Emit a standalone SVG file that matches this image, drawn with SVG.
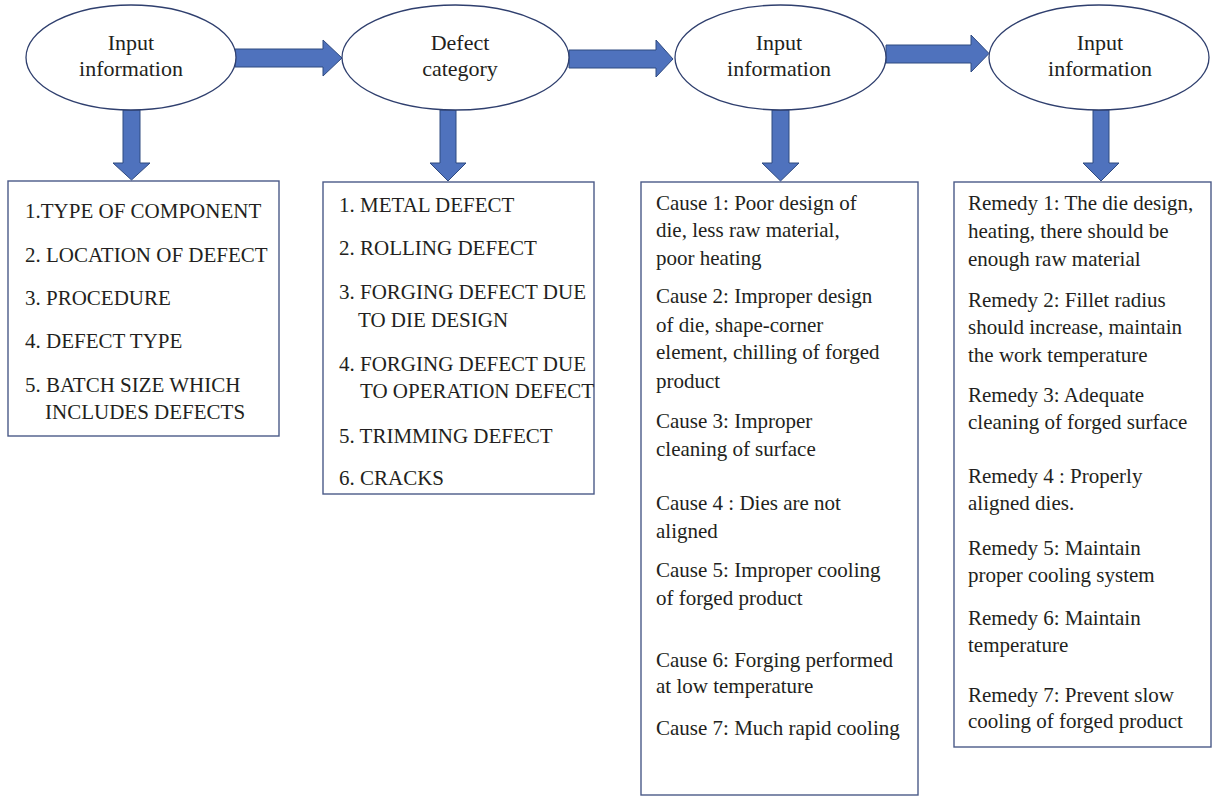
<svg xmlns="http://www.w3.org/2000/svg" width="1212" height="797" viewBox="0 0 1212 797">
<style>
.bg{fill:#ffffff}
.ell{fill:#ffffff;stroke:#2f3f6e;stroke-width:1.3}
.box{fill:#ffffff;stroke:#4a5a88;stroke-width:1.4}
.arr{fill:#4f72bd;stroke:#2f4a80;stroke-width:1}
text{font-family:"Liberation Serif","Times New Roman",serif;fill:#231f20;font-size:21px}
.lbl{font-size:22px;text-anchor:middle}
</style>
<rect class="bg" x="0" y="0" width="1212" height="797"/>
<g id="connectors">
<path class="arr" d="M235,49 H323 V40 L342,58 L323,76 V67 H235 Z"/>
<path class="arr" d="M569,50 H656 V40 L673,59 L656,77 V68 H569 Z"/>
<path class="arr" d="M886,45 H971 V35 L989,53.5 L971,72 V63 H886 Z"/>
<path class="arr" d="M123,110 V163 H113 L131.5,180 L150,163 H140 V110 Z"/>
<path class="arr" d="M440,110 V163 H430 L448,181 L466,163 H456 V110 Z"/>
<path class="arr" d="M772,110 V163 H762 L780.5,181 L799,163 H789 V110 Z"/>
<path class="arr" d="M1093,110 V163 H1083 L1101,181 L1119,163 H1109 V110 Z"/>
</g>
<g id="node-input1">
<ellipse class="ell" cx="131" cy="57.5" rx="105" ry="52.5"/>
<text class="lbl" x="131" y="50">Input</text>
<text class="lbl" x="131" y="76">information</text>
</g>
<g id="node-defect">
<ellipse class="ell" cx="455.5" cy="57.5" rx="113.5" ry="52.5"/>
<text class="lbl" x="460" y="50">Defect</text>
<text class="lbl" x="460" y="76">category</text>
</g>
<g id="node-input2">
<ellipse class="ell" cx="780.5" cy="57.5" rx="105.5" ry="52.5"/>
<text class="lbl" x="779" y="50">Input</text>
<text class="lbl" x="779" y="76">information</text>
</g>
<g id="node-input3">
<ellipse class="ell" cx="1099" cy="57.5" rx="110" ry="52.5"/>
<text class="lbl" x="1100" y="50">Input</text>
<text class="lbl" x="1100" y="76">information</text>
</g>
<g id="box-info">
<rect class="box" x="8" y="181" width="271" height="255"/>
<text x="25" y="218">1.TYPE OF COMPONENT</text>
<text x="25" y="262">2. LOCATION OF DEFECT</text>
<text x="25" y="305">3. PROCEDURE</text>
<text x="25" y="348">4. DEFECT TYPE</text>
<text x="25" y="392">5. BATCH SIZE WHICH</text>
<text x="45" y="419">INCLUDES DEFECTS</text>
</g>
<g id="box-categories">
<rect class="box" x="323" y="182" width="271" height="312"/>
<text x="339" y="212">1. METAL DEFECT</text>
<text x="339" y="255">2. ROLLING DEFECT</text>
<text x="339" y="299">3. FORGING DEFECT DUE</text>
<text x="358" y="327">TO DIE DESIGN</text>
<text x="339" y="371">4. FORGING DEFECT DUE</text>
<text x="360" y="398">TO OPERATION DEFECT</text>
<text x="339" y="443">5. TRIMMING DEFECT</text>
<text x="339" y="485">6. CRACKS</text>
</g>
<g id="box-causes">
<rect class="box" x="641" y="182" width="277" height="613"/>
<text x="656" y="210">Cause 1: Poor design of</text>
<text x="656" y="237">die, less raw material,</text>
<text x="656" y="265">poor heating</text>
<text x="656" y="303">Cause 2: Improper design</text>
<text x="656" y="332">of die, shape-corner</text>
<text x="656" y="359">element, chilling of forged</text>
<text x="656" y="388">product</text>
<text x="656" y="428">Cause 3: Improper</text>
<text x="656" y="456">cleaning of surface</text>
<text x="656" y="510">Cause 4 : Dies are not</text>
<text x="656" y="538">aligned</text>
<text x="656" y="577">Cause 5: Improper cooling</text>
<text x="656" y="605">of forged product</text>
<text x="656" y="667">Cause 6: Forging performed</text>
<text x="656" y="693">at low temperature</text>
<text x="656" y="735">Cause 7: Much rapid cooling</text>
</g>
<g id="box-remedies">
<rect class="box" x="954" y="182" width="257" height="565"/>
<text x="968" y="210">Remedy 1: The die design,</text>
<text x="968" y="238">heating, there should be</text>
<text x="968" y="266">enough raw material</text>
<text x="968" y="307">Remedy 2: Fillet radius</text>
<text x="968" y="334">should increase, maintain</text>
<text x="968" y="362">the work temperature</text>
<text x="968" y="402">Remedy 3: Adequate</text>
<text x="968" y="429">cleaning of forged surface</text>
<text x="968" y="483">Remedy 4 : Properly</text>
<text x="968" y="510">aligned dies.</text>
<text x="968" y="555">Remedy 5: Maintain</text>
<text x="968" y="582">proper cooling system</text>
<text x="968" y="625">Remedy 6: Maintain</text>
<text x="968" y="652">temperature</text>
<text x="968" y="702">Remedy 7: Prevent slow</text>
<text x="968" y="728">cooling of forged product</text>
</g>
</svg>
